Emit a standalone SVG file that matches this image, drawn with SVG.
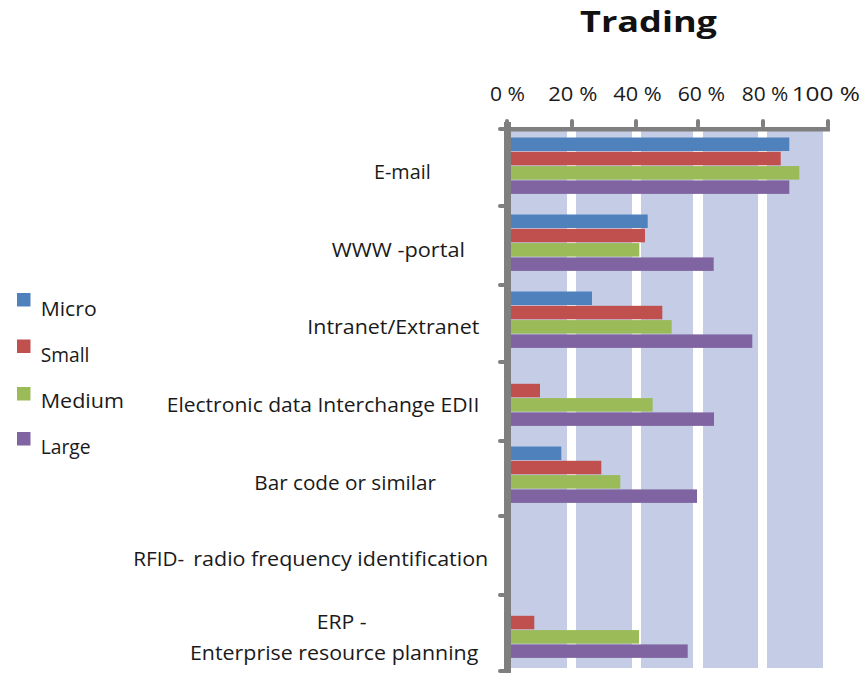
<svg xmlns="http://www.w3.org/2000/svg" width="865" height="673" viewBox="0 0 865 673">
  <style>
    text { font-family: "Open Sans", Lato, "Liberation Sans", sans-serif; font-size: 20px; fill: #1a1a1a; }
    .title { font-weight: bold; font-size: 29px; fill: #111; }
    .band { fill: #c4cce6; }
    .axis { fill: #7f7f7f; }
    .micro { fill: #4f81bd; }
    .small { fill: #c0504d; }
    .medium { fill: #9bbb59; }
    .large { fill: #8064a2; }
  </style>
  <rect width="865" height="673" fill="#ffffff"/>

  <text class="title" x="580" y="32" textLength="137" lengthAdjust="spacingAndGlyphs">Trading</text>

  <g id="plot-background">
    <rect class="band" x="511" y="131" width="56" height="537"/>
    <rect class="band" x="576" y="131" width="56" height="537"/>
    <rect class="band" x="641" y="131" width="52" height="537"/>
    <rect class="band" x="703" y="131" width="55" height="537"/>
    <rect class="band" x="767" y="131" width="56" height="537"/>
  </g>

  <g id="axis-labels">
    <text x="490" y="101" textLength="35" lengthAdjust="spacingAndGlyphs">0 %</text>
    <text x="548.3" y="101" textLength="49" lengthAdjust="spacingAndGlyphs">20 %</text>
    <text x="613.3" y="101" textLength="48.4" lengthAdjust="spacingAndGlyphs">40 %</text>
    <text x="677.7" y="101" textLength="47.3" lengthAdjust="spacingAndGlyphs">60 %</text>
    <text x="741.7" y="101" textLength="46.6" lengthAdjust="spacingAndGlyphs">80 %</text>
    <text x="791.7" y="101" textLength="68.3" lengthAdjust="spacingAndGlyphs">100 %</text>
  </g>

  <g id="bars">
    <g id="email">
      <rect class="micro" x="511" y="137.5" width="278.3" height="13.5"/>
      <rect class="small" x="511" y="151.8" width="269.7" height="13.5"/>
      <rect class="medium" x="511" y="166.1" width="288.3" height="13.5"/>
      <rect class="large" x="511" y="180.4" width="278.3" height="13.5"/>
    </g>
    <g id="www">
      <rect class="micro" x="511" y="214.5" width="136.7" height="13.5"/>
      <rect class="small" x="511" y="228.8" width="134" height="13.5"/>
      <rect class="medium" x="511" y="243.1" width="128.3" height="13.5"/>
      <rect class="large" x="511" y="257.4" width="202.7" height="13.5"/>
    </g>
    <g id="intranet">
      <rect class="micro" x="511" y="291.5" width="81" height="13.5"/>
      <rect class="small" x="511" y="305.8" width="151.3" height="13.5"/>
      <rect class="medium" x="511" y="320.1" width="160.7" height="13.5"/>
      <rect class="large" x="511" y="334.4" width="241.3" height="13.5"/>
    </g>
    <g id="edi">
      <rect class="small" x="511" y="383.8" width="29" height="13.5"/>
      <rect class="medium" x="511" y="398.1" width="141.7" height="13.5"/>
      <rect class="large" x="511" y="412.4" width="203" height="13.5"/>
    </g>
    <g id="barcode">
      <rect class="micro" x="511" y="446.5" width="50.3" height="13.5"/>
      <rect class="small" x="511" y="460.8" width="90.3" height="13.5"/>
      <rect class="medium" x="511" y="475.1" width="109.3" height="13.5"/>
      <rect class="large" x="511" y="489.4" width="186" height="13.5"/>
    </g>
    <g id="erp">
      <rect class="small" x="511" y="615.8" width="23.3" height="13.5"/>
      <rect class="medium" x="511" y="630.1" width="128" height="13.5"/>
      <rect class="large" x="511" y="644.4" width="176.7" height="13.5"/>
    </g>
  </g>

  <g id="axes">
    <rect class="axis" x="504" y="127" width="326" height="4.5"/>
    <rect class="axis" x="504" y="122" width="7" height="551"/>
    <rect class="axis" x="505" y="119" width="4" height="9" rx="2"/>
    <rect class="axis" x="570" y="119" width="4" height="9" rx="2"/>
    <rect class="axis" x="634" y="119" width="4" height="9" rx="2"/>
    <rect class="axis" x="696" y="119" width="4" height="9" rx="2"/>
    <rect class="axis" x="761" y="119" width="4" height="9" rx="2"/>
    <rect class="axis" x="826" y="119" width="4" height="9" rx="2"/>
    <rect class="axis" x="498" y="127" width="8" height="4" rx="2"/>
    <rect class="axis" x="498" y="204" width="8" height="4" rx="2"/>
    <rect class="axis" x="498" y="283" width="8" height="4" rx="2"/>
    <rect class="axis" x="498" y="360" width="8" height="4" rx="2"/>
    <rect class="axis" x="498" y="439" width="8" height="4" rx="2"/>
    <rect class="axis" x="498" y="514" width="8" height="4" rx="2"/>
    <rect class="axis" x="498" y="593" width="8" height="4" rx="2"/>
    <rect class="axis" x="498" y="669" width="8" height="4" rx="2"/>
  </g>

  <g id="category-labels">
    <text x="374" y="179.3" textLength="56.7" lengthAdjust="spacingAndGlyphs">E-mail</text>
    <text x="331.7" y="257.3" textLength="133.3" lengthAdjust="spacingAndGlyphs">WWW -portal</text>
    <text x="307.3" y="334.3" textLength="172" lengthAdjust="spacingAndGlyphs">Intranet/Extranet</text>
    <text x="166.7" y="411.7" textLength="312.6" lengthAdjust="spacingAndGlyphs">Electronic data Interchange EDII</text>
    <text x="254.3" y="490" textLength="181.7" lengthAdjust="spacingAndGlyphs">Bar code or similar</text>
    <text x="133.3" y="565.5" textLength="51" lengthAdjust="spacingAndGlyphs">RFID-</text>
    <text x="193.3" y="565.5" textLength="295" lengthAdjust="spacingAndGlyphs">radio frequency identification</text>
    <text x="316.7" y="629" textLength="50" lengthAdjust="spacingAndGlyphs">ERP -</text>
    <text x="190" y="660" textLength="288.3" lengthAdjust="spacingAndGlyphs">Enterprise resource planning</text>
  </g>

  <g id="legend">
    <g id="legend-micro">
      <rect class="micro" x="17" y="293" width="13.5" height="13.5"/>
      <text x="40.7" y="316" textLength="56" lengthAdjust="spacingAndGlyphs">Micro</text>
    </g>
    <g id="legend-small">
      <rect class="small" x="17" y="339.5" width="13.5" height="13.5"/>
      <text x="40.7" y="361.7" textLength="48.7" lengthAdjust="spacingAndGlyphs">Small</text>
    </g>
    <g id="legend-medium">
      <rect class="medium" x="17" y="387" width="13.5" height="13.5"/>
      <text x="40.7" y="408.3" textLength="83.3" lengthAdjust="spacingAndGlyphs">Medium</text>
    </g>
    <g id="legend-large">
      <rect class="large" x="17" y="432" width="13.5" height="13.5"/>
      <text x="40.7" y="454" textLength="50" lengthAdjust="spacingAndGlyphs">Large</text>
    </g>
  </g>
</svg>
